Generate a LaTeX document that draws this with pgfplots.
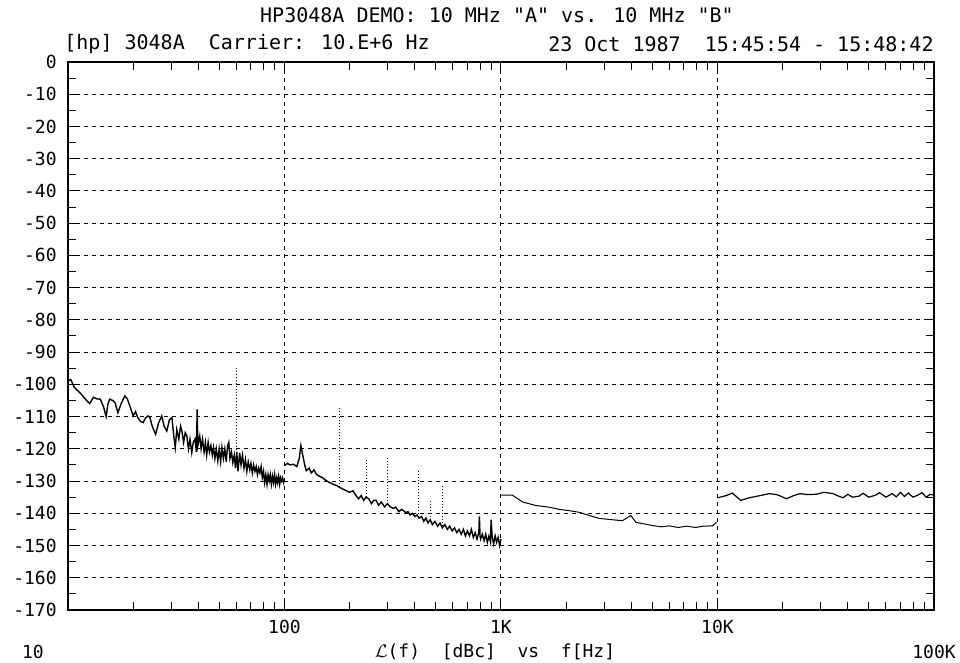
\documentclass[border=0pt]{standalone}
\usepackage{fontspec}
\setmainfont{DejaVu Sans Mono}
\newfontfamily\hp{DejaVu Sans Mono}
\usepackage{pgfplots}
\pgfplotsset{compat=1.18}
\begin{document}
\begin{tikzpicture}
\useasboundingbox (-34pt,-26.5pt) rectangle (446pt,305pt);
\begin{axis}[
  at={(0,0)}, anchor=south west,
  scale only axis, width=433pt, height=274pt,
  xmode=log, xmin=10, xmax=100000, ymin=-170, ymax=0,
  axis line style={line width=0.75pt},
  xtick={100,1000,10000}, xticklabels={100,1K,10K},
  minor xtick={20,30,40,50,60,70,80,90,200,300,400,500,600,700,800,900,2000,3000,4000,5000,6000,7000,8000,9000,20000,30000,40000,50000,60000,70000,80000,90000},
  ytick={-170,-160,...,0},
  yticklabels={-170,-160,-150,-140,-130,-120,-110,-100,-90,-80,-70,-60,-50,-40,-30,-20,-10,0},
  minor ytick={-165,-155,...,-5},
  major tick length=4pt, minor tick length=4pt,
  tick style={black, line width=0.5pt},
  grid=major,
  major grid style={black, line width=0.5pt, dash pattern=on 2pt off 2pt},
  minor grid style={draw=none},
  tick label style={font=\hp\fontsize{9}{10}\selectfont},
  xticklabel style={anchor=center, yshift=-8.5pt},
  yticklabel style={anchor=east, inner sep=0pt, xshift=-5.5pt},
  /pgf/number format/assume math mode=true,
  clip=true,
]
% 10 - 100 Hz
\addplot[black, line width=0.7pt] coordinates {
(10,-99) (10.3,-98.5) (10.7,-101) (11.1,-102) (11.5,-103) (12,-104.5) (12.6,-106) (13.1,-104) (13.6,-104.5) (14.1,-104.6) (14.6,-107) (15,-110) (15.3,-106) (15.6,-104.6) (16.1,-105) (16.5,-105.7) (17,-108.8) (17.6,-106) (18.3,-103.6) (18.8,-104.5) (19.3,-106.7) (20,-109.8) (20.5,-108.5) (21,-110.3) (21.6,-111.5) (22.2,-111.9) (22.8,-110.5) (23.4,-109.8) (23.9,-110.3) (24.5,-113) (25.4,-115.5) (26.2,-112) (27.1,-109.8) (27.8,-113) (28.6,-114.5) (29.4,-111) (30.2,-110.3) (30.8,-116) (31.3,-119.6) (31.8,-114) (32.5,-117) (33.1,-113) (33.6,-114.5) (34.2,-118) (34.8,-115) (35.4,-116) (36,-120) (36.6,-117) (37.3,-121.2) (37.9,-118) (38.6,-117) (39.2,-121) (39.5,-107.8) (39.8,-119) (40.6,-116) (41.2,-120) (41.8,-117) (42.5,-121) (43.1,-118) (43.7,-122) (44.4,-118) (45,-121) (45.7,-119) (46.4,-122) (47,-119.6) (47.7,-123) (48.4,-120) (49.2,-123.8) (49.9,-120) (50.7,-124) (51.4,-119.6) (52.2,-123) (53,-120) (53.8,-124) (54.6,-119) (55.3,-118) (56,-123) (56.9,-121) (57.7,-124.3) (58.6,-122) (59.4,-126) (60.2,-121) (61,-127) (62.1,-121.2) (63,-125) (64,-122) (65,-126) (66,-123.3) (67,-127) (68,-124) (69.1,-126.5) (70,-124.5) (71,-127.5) (72,-125) (73,-127) (74,-125.5) (75,-128) (76,-126) (77,-127.5) (78,-125.5) (79,-129) (80,-127) (81,-130.5) (82,-128) (83,-131) (84,-128) (85,-130) (86,-128) (87,-131) (88,-128.5) (89,-130.5) (90,-128) (91,-131) (92,-129) (93,-130.5) (94,-128.5) (95,-131) (96,-129) (97,-130) (98,-129) (99,-130.5) (100,-129.5)
};
% 100 Hz - 1 kHz
\addplot[black, line width=0.7pt] coordinates {
(100,-125.3) (103,-124.5) (106,-125) (110,-124.8) (114,-125.5) (117,-123) (119,-119) (121,-121.5) (124,-125) (126,-126.8) (130,-126) (133,-127.5) (137,-126.5) (140,-127.8) (145,-128.5) (150,-129) (156,-129.9) (162,-130.5) (168,-131) (174,-131.4) (180,-132) (186,-132.5) (193,-133) (200,-133.5) (207,-133) (214,-134.5) (220,-135.5) (226,-134.5) (232,-136) (238,-135) (245,-135.5) (252,-137) (258,-136) (265,-136) (272,-137.5) (280,-136.5) (290,-138) (299,-137) (308,-138) (318,-138.5) (327,-138.1) (337,-139.5) (347,-138.8) (355,-139.2) (363,-139.8) (372,-139.5) (380,-140.5) (390,-140) (400,-141) (410,-140.5) (418,-141.5) (430,-141) (440,-142.5) (450,-141.5) (460,-143) (471,-142) (482,-143.5) (495,-142.5) (510,-144) (523,-143) (536,-144.5) (550,-143.5) (565,-145) (580,-144) (595,-145.5) (610,-144.5) (625,-146) (640,-145) (655,-146.5) (670,-145) (685,-147) (700,-145.5) (715,-147) (730,-145) (745,-147.5) (760,-146) (775,-148) (790,-146) (795,-141) (800,-147) (805,-148) (820,-146.5) (835,-148.5) (850,-146.5) (865,-149) (880,-147) (895,-149) (900,-142) (910,-147) (925,-149.5) (940,-147) (955,-149) (970,-147.5) (985,-150) (1000,-148)
};
% 1 kHz - 10 kHz
\addplot[black, line width=0.5pt] coordinates {
(1000,-134.4) (1130,-134.4) (1260,-136.5) (1450,-137.6) (1670,-138.1) (1860,-138.8) (2070,-139.2) (2300,-139.7) (2560,-140.7) (2850,-141.6) (3270,-142) (3640,-142.3) (3980,-140.7) (4200,-142.8) (4670,-143.4) (5000,-143.8) (5530,-144.2) (6000,-143.9) (6580,-144.4) (7200,-144.0) (7940,-144.4) (8600,-144.0) (9500,-143.9) (9900,-142.8)
};
% 10 kHz - 100 kHz
\addplot[black, line width=0.6pt] coordinates {
(10000,-135.2) (11000,-134.5) (11700,-133.7) (12800,-136) (14000,-135.2) (15500,-134.6) (17400,-133.9) (19000,-134.3) (20800,-135.5) (22500,-134.5) (24000,-133.9) (26000,-134.2) (28600,-134.1) (31000,-133.5) (34200,-133.9) (36000,-134.6) (38000,-135.2) (40000,-134.1) (42000,-135.0) (45000,-134.7) (47000,-133.8) (50000,-135.0) (53700,-134.4) (56000,-133.6) (60000,-135.0) (64000,-133.9) (67000,-134.9) (70000,-133.5) (73000,-134.8) (76000,-133.7) (80000,-135.0) (84000,-134.4) (88000,-133.6) (92000,-135.0) (96000,-134.1) (100000,-134.4)
};
% spurs
\addplot[black, line width=0.5pt, densely dotted] coordinates {(60.2,-124) (60.2,-94.3)};
\addplot[black, line width=0.5pt, densely dotted] coordinates {(180.4,-132) (180.4,-107.2)};
\addplot[black, line width=0.5pt, densely dotted] coordinates {(238,-135) (238,-123.2)};
\addplot[black, line width=0.5pt, densely dotted] coordinates {(299,-137) (299,-122.2)};
\addplot[black, line width=0.5pt, densely dotted] coordinates {(418,-141) (418,-126.3)};
\addplot[black, line width=0.5pt, densely dotted] coordinates {(471,-142) (471,-136)};
\addplot[black, line width=0.5pt, densely dotted] coordinates {(536,-144) (536,-131.4)};
\end{axis}
\node[font=\hp\fontsize{10}{12}\selectfont] at (214.5pt,297.5pt) {HP3048A DEMO: 10 MHz "A" vs. 10 MHz "B"};
\node[font=\hp\fontsize{10}{12}\selectfont, anchor=west, inner sep=0pt] at (-2pt,283pt) {[hp] 3048A\ \ Carrier: 10.E+6 Hz};
\node[font=\hp\fontsize{10}{12}\selectfont, anchor=east, inner sep=0pt] at (433pt,283pt) {23 Oct 1987\ \ 15:45:54 - 15:48:42};
\node[font=\hp\fontsize{9}{10}\selectfont] at (-17.5pt,-21pt) {10};
\node[font=\hp\fontsize{9}{10}\selectfont] at (213.5pt,-21pt) {$\mathcal{L}$(f)\ \ [dBc]\ \ vs\ \ f[Hz]};
\node[font=\hp\fontsize{9}{10}\selectfont] at (433pt,-21pt) {100K};
\end{tikzpicture}
\end{document}
